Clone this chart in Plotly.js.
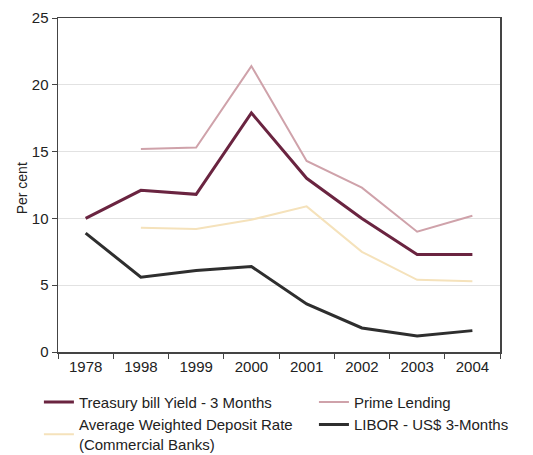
<!DOCTYPE html>
<html>
<head>
<meta charset="utf-8">
<script src="https://cdn.plot.ly/plotly-3.0.1.min.js"></script>
<style>html,body{margin:0;padding:0;background:#fff;}#chart{width:533px;height:455px;}</style>
</head>
<body>
<div id="chart"></div>
<script>
const years = ["1978", "1998", "1999", "2000", "2001", "2002", "2003", "2004"];
const treasury = [10.0, 12.1, 11.8, 17.9, 13.0, 10.0, 7.3, 7.3];
const primeLending = [null, 15.2, 15.3, 21.4, 14.3, 12.3, 9.0, 10.2];
const depositRate = [null, 9.3, 9.2, 9.9, 10.9, 7.5, 5.4, 5.3];
const libor = [8.9, 5.6, 6.1, 6.4, 3.6, 1.8, 1.2, 1.6];
const yTitle = "Per cent";

const traces = [
  {x: years, y: treasury, name: "Treasury bill Yield - 3 Months", mode: "lines", legend: "legend", line: {color: "#6a2440", width: 3}},
  {x: years, y: primeLending, name: "Prime Lending", mode: "lines", legend: "legend2", line: {color: "#cfa2aa", width: 2}},
  {x: years, y: depositRate, name: "Average Weighted Deposit Rate<br>(Commercial Banks)", mode: "lines", legend: "legend", line: {color: "#f5e2bb", width: 2}},
  {x: years, y: libor, name: "LIBOR - US$ 3-Months", mode: "lines", legend: "legend2", line: {color: "#2e2e2e", width: 3}}
];

const legendCommon = {orientation: "v", xref: "container", yref: "container", y: 0.152,
  xanchor: "left", yanchor: "top", traceorder: "normal", font: {size: 15, color: "#222"},
  tracegroupgap: 0, itemwidth: 30, bgcolor: "rgba(0,0,0,0)"};

const layout = {
  width: 533, height: 455,
  margin: {l: 58, r: 33, t: 18, b: 103, autoexpand: false},
  paper_bgcolor: "#fff", plot_bgcolor: "#fff",
  font: {family: "Liberation Sans, Arial, sans-serif", color: "#222", size: 14},
  showlegend: true,
  legend: Object.assign({}, legendCommon, {x: 0.073}),
  legend2: Object.assign({}, legendCommon, {x: 0.589}),
  xaxis: {type: "category", range: [-0.5, 7.5], tickson: "boundaries", ticks: "outside", ticklen: 5,
          tickcolor: "#444", showline: true, linecolor: "#444", linewidth: 1.5, mirror: true,
          showgrid: false, tickfont: {size: 15}},
  yaxis: {range: [0, 25], dtick: 5, ticks: "outside", ticklen: 5, tickcolor: "#444",
          showline: true, linecolor: "#444", linewidth: 1.5, mirror: true,
          showgrid: true, gridcolor: "#e2e2e2", gridwidth: 1, zeroline: false,
          tickfont: {size: 15}},
  annotations: [{text: yTitle, xref: "paper", yref: "paper", x: 0, y: 0.49, xshift: -36,
                 xanchor: "center", yanchor: "middle", textangle: -90, showarrow: false,
                 font: {size: 14, color: "#222"}}]
};

Plotly.newPlot("chart", traces, layout, {displayModeBar: false, staticPlot: true});
</script>
</body>
</html>
